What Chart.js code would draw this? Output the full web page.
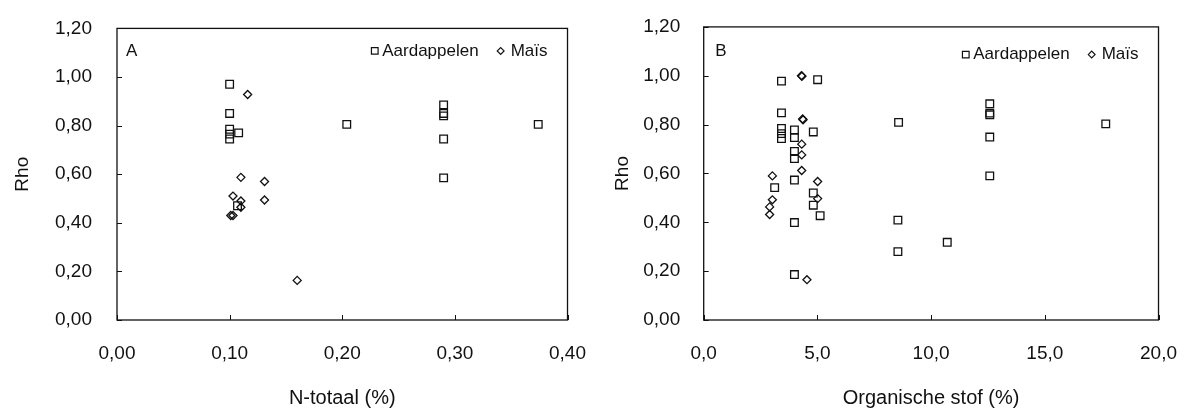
<!DOCTYPE html>
<html lang="nl">
<head>
<meta charset="utf-8">
<title>Rho tegen N-totaal en organische stof</title>
<script src="https://cdn.jsdelivr.net/npm/chart.js@4.4.1/dist/chart.umd.min.js"></script>
<style>
  html, body { margin: 0; padding: 0; background: #fff; }
  #wrap { position: relative; width: 1191px; height: 412px; }
  #chartA { position: absolute; left: 0; top: 0; }
  #chartB { position: absolute; left: 600px; top: 0; }
</style>
</head>
<body>
<div id="wrap">
  <canvas id="chartA" width="600" height="412"></canvas>
  <canvas id="chartB" width="591" height="412"></canvas>
</div>
<script>
// Paneel A: Rho tegen N-totaal (%)
const nTotaalAardappelen = [0.100, 0.100, 0.100, 0.100, 0.100, 0.108, 0.107, 0.204, 0.290, 0.290, 0.290, 0.290, 0.290, 0.374];
const rhoAardappelenA   = [0.970, 0.850, 0.785, 0.765, 0.745, 0.770, 0.470, 0.805, 0.885, 0.850, 0.840, 0.745, 0.585, 0.805];
const nTotaalMais = [0.116, 0.110, 0.131, 0.103, 0.110, 0.110, 0.131, 0.101, 0.103, 0.160];
const rhoMaisA    = [0.928, 0.587, 0.570, 0.510, 0.490, 0.464, 0.494, 0.430, 0.430, 0.163];

// Paneel B: Rho tegen organische stof (%)
const osAardappelen = [3.42, 5.01, 3.42, 3.42, 3.42, 3.42, 3.99, 3.99, 4.82, 3.99, 3.99, 3.99, 3.12, 4.82,
                       4.82, 5.12, 3.99, 3.99, 8.57, 8.54, 8.54, 10.71, 12.58, 12.58, 12.58, 12.58, 12.58, 17.68];
const rhoAardappelenB = [0.978, 0.984, 0.848, 0.784, 0.763, 0.743, 0.778, 0.747, 0.770, 0.690, 0.661, 0.573, 0.542, 0.520,
                         0.470, 0.427, 0.399, 0.186, 0.809, 0.409, 0.280, 0.318, 0.885, 0.847, 0.840, 0.749, 0.590, 0.803];
const osMais   = [4.30, 4.32, 4.35, 4.37, 4.31, 4.31, 4.31, 3.02, 5.01, 3.02, 5.01, 2.90, 2.90, 4.54];
const rhoMaisB = [1.000, 0.998, 0.823, 0.820, 0.720, 0.676, 0.612, 0.590, 0.567, 0.492, 0.497, 0.463, 0.432, 0.165];

// Aslabels
const yTickLabels  = ['0,00', '0,20', '0,40', '0,60', '0,80', '1,00', '1,20'];
const xTickLabelsA = ['0,00', '0,10', '0,20', '0,30', '0,40'];
const xTickLabelsB = ['0,0', '5,0', '10,0', '15,0', '20,0'];

const FONT = "'Liberation Sans', Arial, sans-serif";
const INK = '#111';

function toPoints(xs, ys) {
    return xs.map((x, i) => ({ x: x, y: ys[i] }));
}

// Kader rondom, tickjes naar binnen, paneelletter en legenda binnen het plotvlak
const framePlugin = {
    id: 'frame',
    afterDraw(chart, args, opts) {
        const ctx = chart.ctx;
        const a = chart.chartArea;
        const sx = chart.scales.x;
        const sy = chart.scales.y;

        ctx.save();
        ctx.strokeStyle = INK;
        ctx.lineWidth = 1.3;
        ctx.strokeRect(a.left, a.top, a.right - a.left, a.bottom - a.top);

        ctx.lineWidth = 1;
        ctx.beginPath();
        sx.ticks.forEach((t, i) => {
            const px = Math.round(sx.getPixelForTick(i)) + 0.5;
            ctx.moveTo(px, a.bottom);
            ctx.lineTo(px, a.bottom - 5);
        });
        sy.ticks.forEach((t, i) => {
            const py = Math.round(sy.getPixelForTick(i)) + 0.5;
            ctx.moveTo(a.left, py);
            ctx.lineTo(a.left + 5, py);
        });
        ctx.stroke();

        // paneelletter
        ctx.fillStyle = INK;
        ctx.font = '17px ' + FONT;
        ctx.textAlign = 'center';
        ctx.textBaseline = 'middle';
        ctx.fillText(opts.letter, a.left + opts.letterDx, a.top + opts.letterDy);

        // legenda, van rechts naar links opgebouwd
        const y = a.top + opts.legendDy;
        let right = a.right - 20;
        const sets = chart.data.datasets;
        for (let i = sets.length - 1; i >= 0; i--) {
            const ds = sets[i];
            const w = ctx.measureText(ds.label).width;
            ctx.fillStyle = INK;
            ctx.textAlign = 'right';
            ctx.fillText(ds.label, right, y);
            const cx = right - w - ds.legendGap;
            ctx.fillStyle = 'rgba(0,0,0,0)';
            ctx.strokeStyle = INK;
            ctx.lineWidth = 1.2;
            Chart.helpers.drawPoint(ctx, {
                pointStyle: ds.pointStyle,
                radius: ds.legendRadius,
                rotation: 0,
                borderWidth: 1.2
            }, cx, y);
            right = cx - 22;
        }
        ctx.restore();
    }
};

function makeChart(id, cfg) {
    const tickFont = { family: FONT, size: 19 };
    const titleFont = { family: FONT, size: 20 };

    return new Chart(document.getElementById(id), {
        type: 'scatter',
        data: {
            datasets: [{
                label: 'Aardappelen',
                data: cfg.aardappelen,
                pointStyle: 'rect',
                pointRadius: 5.4,
                pointBorderWidth: 1.3,
                pointBorderColor: INK,
                pointBackgroundColor: 'rgba(0,0,0,0)',
                legendGap: 7.5,
                legendRadius: 4.7
            }, {
                label: 'Maïs',
                data: cfg.mais,
                pointStyle: 'rectRot',
                pointRadius: 4,
                pointBorderWidth: 1.3,
                pointBorderColor: INK,
                pointBackgroundColor: 'rgba(0,0,0,0)',
                legendGap: 10,
                legendRadius: 3.4
            }]
        },
        options: {
            responsive: false,
            animation: false,
            events: [],
            layout: {
                padding: { top: cfg.top, right: cfg.right, bottom: 0, left: 0 }
            },
            plugins: {
                legend: { display: false },
                tooltip: { enabled: false },
                frame: cfg.frame
            },
            scales: {
                x: {
                    type: 'linear',
                    min: 0,
                    max: cfg.xMax,
                    grid: { display: false },
                    border: { display: false },
                    ticks: {
                        stepSize: cfg.xStep,
                        padding: 14,
                        color: INK,
                        font: tickFont,
                        maxRotation: 0,
                        callback: (v, i) => cfg.xLabels[i]
                    },
                    title: {
                        display: true,
                        text: cfg.xTitle,
                        color: INK,
                        font: titleFont,
                        padding: { top: 0, bottom: 1.5 }
                    },
                    afterFit: s => { s.height = 92; }
                },
                y: {
                    type: 'linear',
                    min: 0,
                    max: 1.2,
                    grid: { display: false },
                    border: { display: false },
                    ticks: {
                        stepSize: 0.2,
                        padding: cfg.yPad,
                        color: INK,
                        font: tickFont,
                        callback: (v, i) => yTickLabels[i]
                    },
                    title: {
                        display: true,
                        text: 'Rho',
                        color: INK,
                        font: { family: FONT, size: 19 },
                        padding: { top: 11.5, bottom: 0 }
                    },
                    afterFit: s => { s.width = cfg.left; }
                }
            }
        },
        plugins: [framePlugin]
    });
}

makeChart('chartA', {
    aardappelen: toPoints(nTotaalAardappelen, rhoAardappelenA),
    mais: toPoints(nTotaalMais, rhoMaisA),
    xMax: 0.4,
    xStep: 0.1,
    xLabels: xTickLabelsA,
    xTitle: 'N-totaal (%)',
    top: 18.3,
    right: 18.3,
    left: 117,
    yPad: 17,
    frame: { letter: 'A', letterDx: 14.7, letterDy: 22.7, legendDy: 22.5 }
});

makeChart('chartB', {
    aardappelen: toPoints(osAardappelen, rhoAardappelenB),
    mais: toPoints(osMais, rhoMaisB),
    xMax: 20,
    xStep: 5,
    xLabels: xTickLabelsB,
    xTitle: 'Organische stof (%)',
    top: 24,
    right: 28.1,
    left: 103.7,
    yPad: 15.5,
    frame: { letter: 'B', letterDx: 17.3, letterDy: 24.8, legendDy: 27.7 }
});
</script>
</body>
</html>
